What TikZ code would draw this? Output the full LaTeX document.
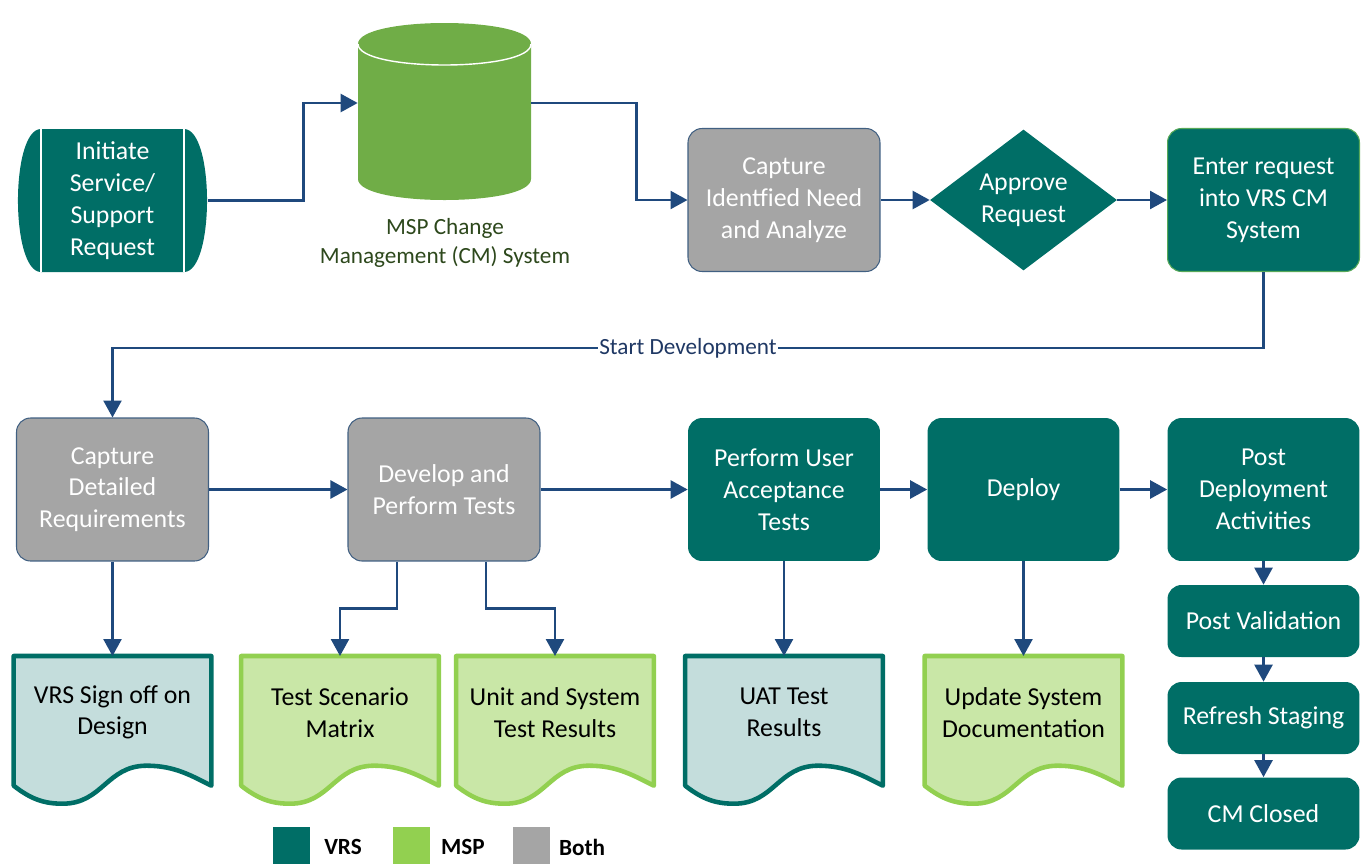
\documentclass[tikz,border=0pt]{standalone}
\usepackage{fontspec}
\setmainfont{Carlito}
\usetikzlibrary{calc,arrows.meta,shapes.geometric}

\definecolor{vrs}{RGB}{0,110,102}
\definecolor{vrslight}{RGB}{196,221,220}
\definecolor{msp}{RGB}{146,208,80}
\definecolor{msplight}{RGB}{201,231,167}
\definecolor{both}{RGB}{165,165,165}
\definecolor{gbord}{RGB}{65,96,130}
\definecolor{cyl}{RGB}{112,173,71}
\definecolor{link}{RGB}{31,73,125}
\definecolor{navy}{RGB}{31,56,100}
\definecolor{olive}{RGB}{45,72,28}

\newcommand\boxfont{\fontsize{14.7}{18.1}\selectfont}
\newcommand\smallfont{\fontsize{13.2}{16.4}\selectfont}
% document shape round a node (name, border, fill)
\newcommand\docshape[3]{\draw[line width=2.6pt, draw=#2, fill=#3, line join=round]
  (#1.north east) -- (#1.north west) -- ($(#1.south west)+(0,17)$)
  .. controls +(18,14) and +(-18,0) .. ($(#1.south west)+(49,35)$)
  .. controls +(40,0) and +(-40,0) .. ($(#1.south west)+(133,-3)$)
  .. controls +(28,0) and +(-20,-10) .. ($(#1.south east)+(0,17)$) -- cycle;}

\tikzset{
  proc/.style={rectangle, rounded corners=0.28cm, fill=vrs, text=white, align=center,
    minimum width=3.84cm, minimum height=2.86cm, inner sep=1pt, font=\boxfont},
  greybox/.style={proc, fill=both, draw=gbord, line width=0.6pt},
  smallbox/.style={proc, minimum height=1.44cm},
  docbox/.style={anchor=north, align=center, minimum width=3.94cm, minimum height=2.24cm,
    inner sep=0pt, font=\boxfont},
  arr/.style={draw=link, line width=1.4pt, -{Triangle[length=0.34cm,width=0.36cm]}},
  legbox/.style={rectangle, minimum size=0.74cm, inner sep=0pt},
  legtext/.style={font=\smallfont\bfseries}
}

\begin{document}
\begin{tikzpicture}[x=0.02cm, y=-0.02cm]
\useasboundingbox (0,0) rectangle (1366,863);

% start and change management system
\fill[vrs] (41,129) -- (184,129) .. controls (214.7,129) and (214.7,272) .. (184,272)
  -- (41,272) .. controls (10.3,272) and (10.3,129) .. (41,129) -- cycle;
\draw[white, line width=0.8pt] (41,129) -- (41,272) (184,129) -- (184,272);
\node[align=center, text=white, font=\boxfont, minimum width=3.79cm, minimum height=2.86cm,
  inner sep=0pt] (init) at (112.5,200.5) {Initiate\\Service/\\Support\\Request};

\fill[cyl] (358,44) -- (358,179) .. controls (358,207) and (531,207) .. (531,179)
  -- (531,44) .. controls (531,16) and (358,16) .. (358,44) -- cycle;
\draw[white, line width=0.8pt] (358,44) .. controls (358,72) and (531,72) .. (531,44);
\node[minimum width=3.46cm, minimum height=3cm, inner sep=0pt] (cm) at (444.5,103) {};
\node[align=center, text=olive, font=\smallfont] (cmtext) at (445,243)
  {MSP Change\\Management (CM) System};

% top row
\node[greybox] (need) at (784,200) {Capture\\Identfied Need\\and Analyze};
\node[diamond, fill=vrs, text=white, align=center, font=\boxfont, inner sep=0pt,
  minimum width=3.74cm, minimum height=2.82cm] (appr) at (1023.5,200) {Approve\\Request};
\node[proc, draw=msp!60!vrs, line width=0.6pt] (enter) at (1263.5,200) {Enter request\\into VRS CM\\System};

% middle row
\node[greybox] (cdr) at (112.5,489.5) {Capture\\Detailed\\Requirements};
\node[greybox] (dev) at (444,489.5) {Develop and\\Perform Tests};
\node[proc] (uat) at (784,489.5) {Perform User\\Acceptance\\Tests};
\node[proc] (dep) at (1023.5,489.5) {Deploy};
\node[proc] (pda) at (1263.5,489.5) {Post\\Deployment\\Activities};

% closing steps
\node[smallbox] (pv) at (1263.5,621) {Post Validation};
\node[smallbox] (rs) at (1263.5,718) {Refresh Staging};
\node[smallbox] (cmc) at (1263.5,813.5) {CM Closed};

% documents
\node[docbox] (sig) at (112.5,656) {};
\node[docbox] (tsm) at (340,656) {};
\node[docbox] (usr) at (555,656) {};
\node[docbox] (uatr) at (784,656) {};
\node[docbox] (usd) at (1023.5,656) {};
\docshape{sig}{vrs}{vrslight}
\docshape{tsm}{msp}{msplight}
\docshape{usr}{msp}{msplight}
\docshape{uatr}{vrs}{vrslight}
\docshape{usd}{msp}{msplight}
\node[docbox] at (112.5,656) {VRS Sign off on\\Design};
\node[docbox] at (340,656) {Test Scenario\\Matrix};
\node[docbox] at (555,656) {Unit and System\\Test Results};
\node[docbox] at (784,656) {UAT Test\\Results};
\node[docbox] at (1023.5,656) {Update System\\Documentation};

% connectors
\draw[arr] (init.east) -- ++(96,0) |- (cm.west);
\draw[arr] (cm.east) -- ++(105,0) |- (need.west);
\draw[arr] (need.east) -- (appr.west);
\draw[arr] (appr.east) -- (enter.west);
\draw[arr] (enter.south) -- ++(0,76) -| (cdr.north)
  node[pos=0.25, fill=white, inner sep=1pt, text=navy, font=\smallfont] {Start Development};
\draw[arr] (cdr.east) -- (dev.west);
\draw[arr] (dev.east) -- (uat.west);
\draw[arr] (uat.east) -- (dep.west);
\draw[arr] (dep.east) -- (pda.west);
\draw[arr] (pda.south) -- (pv.north);
\draw[arr] (pv.south) -- (rs.north);
\draw[arr] (rs.south) -- (cmc.north);
\draw[arr] (cdr.south) -- (sig.north);
\draw[arr] ($(dev.south)+(-47,0)$) -- ++(0,47) -| (tsm.north);
\draw[arr] ($(dev.south)+(42,0)$) -- ++(0,47) -| (usr.north);
\draw[arr] (uat.south) -- (uatr.north);
\draw[arr] (dep.south) -- (usd.north);

% legend
\node[legbox, fill=vrs] (kvrs) at (291.5,845.5) {};
\node[legbox, fill=msp] (kmsp) at (411.5,845.5) {};
\node[legbox, fill=both] (kboth) at (531.5,845.5) {};
\node[legtext] at (343,847) {VRS};
\node[legtext] at (463,847) {MSP};
\node[legtext] at (582,847) {Both};
\end{tikzpicture}
\end{document}
